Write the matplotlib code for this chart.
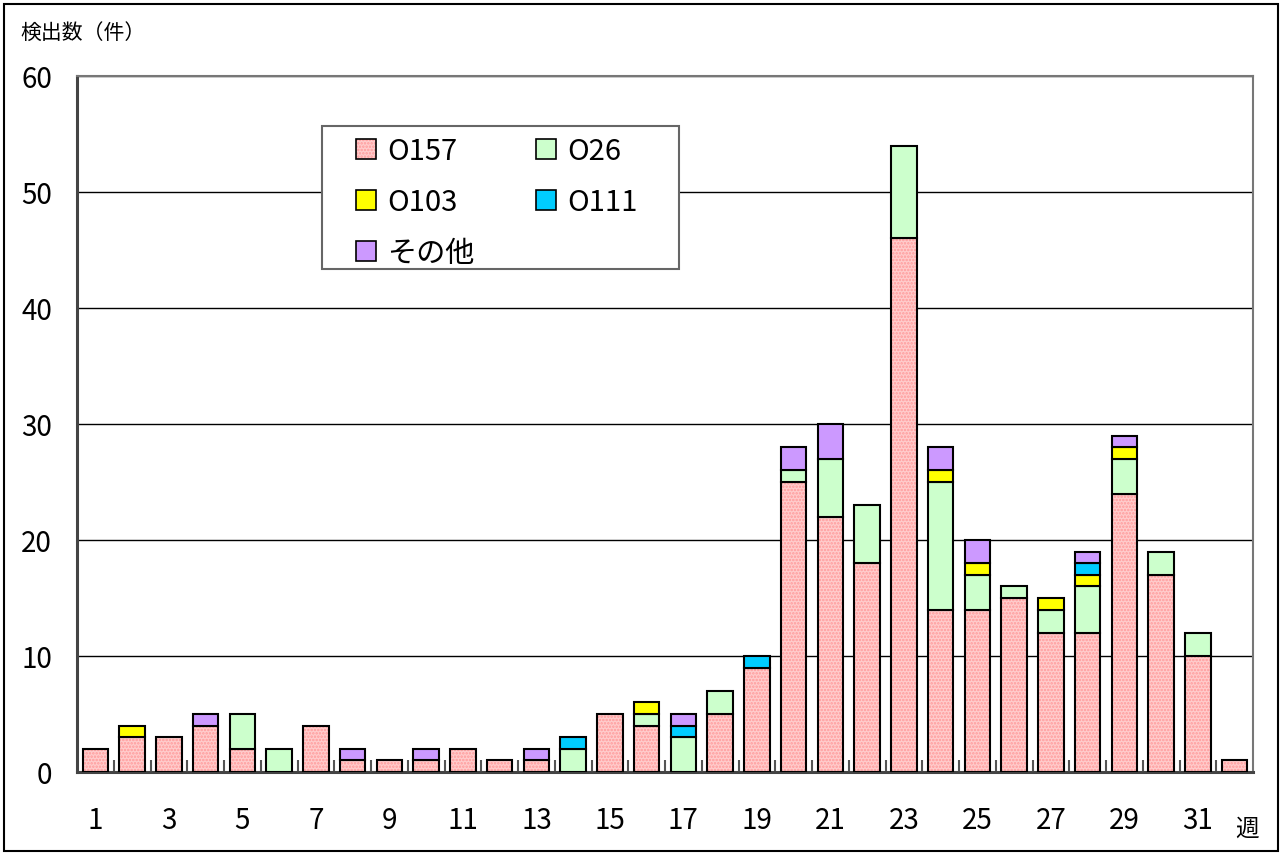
import numpy as np
import matplotlib
matplotlib.use("Agg")
import matplotlib.pyplot as plt
from matplotlib.patches import Rectangle, Patch

plt.rcParams['font.family'] = ['Noto Sans CJK JP', 'DejaVu Sans']
plt.rcParams['hatch.linewidth'] = 1.2

weeks = np.arange(1, 33)
o157 = [2, 3, 3, 4, 2, 0, 4, 1, 1, 1, 2, 1, 1, 0, 5, 4, 0, 5, 9, 25, 22, 18, 46, 14, 14, 15, 12, 12, 24, 17, 10, 1]
o26 = [0, 0, 0, 0, 3, 2, 0, 0, 0, 0, 0, 0, 0, 2, 0, 1, 3, 2, 0, 1, 5, 5, 8, 11, 3, 1, 2, 4, 3, 2, 2, 0]
o103 = [0, 1, 0, 0, 0, 0, 0, 0, 0, 0, 0, 0, 0, 0, 0, 1, 0, 0, 0, 0, 0, 0, 0, 1, 1, 0, 1, 1, 1, 0, 0, 0]
o111 = [0, 0, 0, 0, 0, 0, 0, 0, 0, 0, 0, 0, 0, 1, 0, 0, 1, 0, 1, 0, 0, 0, 0, 0, 0, 0, 0, 1, 0, 0, 0, 0]
other = [0, 0, 0, 1, 0, 0, 0, 1, 0, 1, 0, 0, 1, 0, 0, 0, 1, 0, 0, 2, 3, 0, 0, 2, 2, 0, 0, 1, 1, 0, 0, 0]

series = [('O157', o157, '#ffcccc'),
          ('O26', o26, '#ccffcc'),
          ('O103', o103, '#ffff00'),
          ('O111', o111, '#00ccff'),
          ('その他', other, '#cc99ff')]

fig = plt.figure(figsize=(12.82, 8.54), dpi=100)
ax = fig.add_axes([77 / 1282, 1 - 773 / 854, 1176 / 1282, 696 / 854])

width = 0.7
bottom = np.zeros(len(weeks))
for name, vals, color in series:
    vals = np.array(vals, dtype=float)
    if name == 'O157':
        ax.bar(weeks, vals, width, bottom=bottom, color=color, hatch='.....',
               edgecolor='#ff9a9a', linewidth=0, zorder=2)
        ax.bar(weeks, vals, width, bottom=bottom, color='none',
               edgecolor='black', linewidth=1.5, zorder=3)
    else:
        mask = vals > 0
        ax.bar(weeks[mask], vals[mask], width, bottom=bottom[mask], color=color,
               edgecolor='black', linewidth=1.5, zorder=3)
    bottom += vals

ax.set_xlim(0.5, 32.5)
ax.set_ylim(0, 60)
ax.set_yticks(range(0, 61, 10))
ax.yaxis.grid(True, color='black', linewidth=1.0, zorder=0)
ax.set_axisbelow(True)
ax.tick_params(axis='y', length=0, labelsize=20, pad=18)

ax.set_xticks(weeks[::2])
ax.set_xticklabels([str(w) for w in weeks[::2]])
ax.set_xticks(np.arange(1.5, 32.5, 1), minor=True)
ax.tick_params(axis='x', which='major', length=0, labelsize=20, pad=24)
ax.tick_params(axis='x', which='minor', direction='in', length=9, width=1.5, color='#555555')

for side in ['left', 'bottom']:
    ax.spines[side].set_color('#444444')
    ax.spines[side].set_linewidth(2.2)
for side in ['top', 'right']:
    ax.spines[side].set_color('#777777')
    ax.spines[side].set_linewidth(1.5)

fig.text(20 / 1282, 1 - 33 / 854, '検出数（件）', fontsize=15, va='center', ha='left')
fig.text(1247 / 1282, 1 - 829 / 854, '週', fontsize=17, va='center', ha='center')

# legend box drawn by hand, legend itself without frame on top
ax.add_patch(Rectangle((322 / 1282, 1 - 270 / 854), 357 / 1282, 143 / 854,
                       transform=fig.transFigure, facecolor='white', clip_on=False,
                       edgecolor='#666666', linewidth=1.5, zorder=4))

handles = []
for n, v, c in series:
    if n == 'O157':
        handles.append((Patch(facecolor=c, edgecolor='#ff9a9a', linewidth=0, hatch='.....'),
                        Patch(facecolor='none', edgecolor='black', linewidth=1.2)))
    else:
        handles.append(Patch(facecolor=c, edgecolor='black', linewidth=1.2))
labels = [n for n, v, c in series]
order = [0, 2, 4, 1, 3]
leg = ax.legend([handles[i] for i in order], [labels[i] for i in order], ncol=2,
                loc='upper left', bbox_to_anchor=(356 / 1282, 1 - 137 / 854),
                bbox_transform=fig.transFigure, fontsize=21, frameon=False,
                handlelength=0.68, handleheight=0.68, handletextpad=0.4,
                columnspacing=2.1, labelspacing=0.72, borderpad=0, borderaxespad=0)
leg.set_zorder(5)

fig.patches.append(Rectangle((4 / 1282, 2 / 854), 1274 / 1282, 847 / 854,
                             transform=fig.transFigure, fill=False,
                             edgecolor='black', linewidth=1.5))

fig.savefig('out.png', dpi=100)
